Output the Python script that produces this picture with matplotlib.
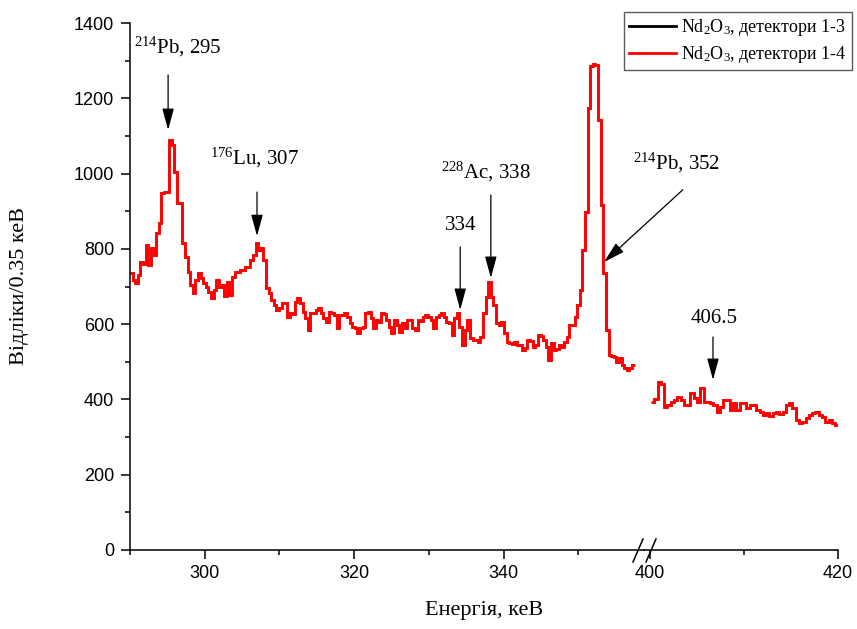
import numpy as np
import matplotlib
matplotlib.use('Agg')
import matplotlib.pyplot as plt
from matplotlib.lines import Line2D

plt.rcParams['font.family'] = ['Liberation Serif', 'DejaVu Serif']
plt.rcParams['mathtext.fontset'] = 'custom'
plt.rcParams['mathtext.rm'] = 'Liberation Serif'
plt.rcParams['mathtext.default'] = 'regular'

# spectrum, 0.35 keV bins
bin_width = 0.35
start_left = 290.0
start_right = 400.1

counts_left = [
    736, 718, 710, 730, 765, 760, 810, 757, 802, 784, 842, 869, 948, 952, 952,
    1089, 1076, 1004, 922, 922, 816, 779, 739, 704, 683, 717, 736, 723, 709, 699,
    686, 670, 691, 717, 699, 704, 675, 712, 677, 725, 739, 739, 744, 744, 752,
    752, 770, 784, 816, 797, 802, 770, 696, 683, 664, 651, 638, 643,
    656, 656, 619, 630, 627, 659, 670, 656, 632, 616, 584, 630, 630, 638, 643,
    630, 616, 606, 632, 630, 624, 590, 624, 624, 630, 619, 603, 592, 590, 576,
    590, 592, 630, 632, 616, 590, 611, 606, 630, 627, 611, 592, 576, 611, 598,
    579, 603, 590, 611, 611, 590, 584, 611, 608, 619, 624, 619, 611, 590, 619,
    624, 630, 619, 606, 603, 571, 616, 630,
    592, 545, 584, 611, 563, 558, 558, 553, 566, 630, 672, 712, 672, 651, 603,
    598, 606, 576, 553, 550, 548, 553, 545, 545, 531, 537, 558, 556, 539, 545,
    571, 568, 558, 539, 505, 550, 531, 533, 545, 539, 553, 566, 598, 598, 619,
    651, 691, 797, 898, 1174, 1285, 1292, 1288, 1143, 917, 736, 584, 518, 515,
    513, 499, 510, 492, 483, 478, 483, 492,
]

counts_right = [
    393, 401, 446, 440, 380, 385, 393, 398, 407, 399, 385, 385, 417, 404, 393,
    430, 393, 393, 390, 385, 367, 380, 399, 399, 372, 390, 372, 390, 390, 377,
    385, 385, 372, 367, 359, 364, 356, 364, 367, 361, 367, 385, 390, 377, 345,
    337, 340, 351, 359, 364, 367, 359, 353, 340, 345, 337, 332,
]

legend_labels = ['Nd$_2$O$_3$, детектори 1-3', 'Nd$_2$O$_3$, детектори 1-4']

W, H = 857, 629
fig = plt.figure(figsize=(W / 100, H / 100), dpi=100)


def fx(x):
    return x / W


def fy(y):
    return 1 - y / H


ax2 = fig.add_axes([fx(644), fy(550), fx(838) - fx(644), fy(23) - fy(550)])
ax1 = fig.add_axes([fx(130), fy(550), fx(644) - fx(130), fy(23) - fy(550)])
ax2.sharey(ax1)
ax1.patch.set_visible(False)
ax2.patch.set_visible(False)

edges_left = start_left + bin_width * np.arange(len(counts_left) + 1)
edges_right = start_right + bin_width * np.arange(len(counts_right) + 1)
ax1.stairs(counts_left, edges_left, baseline=None, color='red', lw=2.1)
ax2.stairs(counts_right, edges_right, baseline=None, color='red', lw=2.1)

ax1.set_xlim(290, 358.8)
ax2.set_xlim(399.36, 420)
ax1.set_ylim(0, 1400)

ax1.set_xticks([300, 320, 340])
ax1.set_xticks([290, 310, 330, 350], minor=True)
ax2.set_xticks([400, 420])
ax2.set_xticks([410], minor=True)
ax1.set_yticks(np.arange(0, 1401, 200))
ax1.set_yticks(np.arange(100, 1400, 200), minor=True)

for ax in (ax1, ax2):
    ax.spines['top'].set_visible(False)
    ax.spines['right'].set_visible(False)
    for s in ax.spines.values():
        s.set_linewidth(1.1)
    ax.tick_params(which='major', direction='out', length=6.5, width=1.1, labelsize=13, pad=4)
    ax.tick_params(which='minor', direction='out', length=3.5, width=1.1)
    for lab in ax.get_xticklabels() + ax.get_yticklabels():
        lab.set_fontfamily('Liberation Sans')
ax1.tick_params(axis='y', pad=5)
ax2.spines['left'].set_visible(False)
ax2.tick_params(axis='y', which='both', left=False, labelleft=False)

# axis break marks
for x0 in (633, 646):
    fig.add_artist(Line2D([fx(x0), fx(x0 + 10)], [fy(562), fy(539)],
                          transform=fig.transFigure, color='black', lw=1.1))

fig.text(fx(484), fy(610), 'Енергія, кеВ', ha='center', va='center', fontsize=16)
fig.text(fx(20), fy(286), 'Відліки/0.35 кеВ', ha='center', va='center',
         rotation=90, fontsize=16)

arrow = dict(arrowstyle='-|>,head_length=1.1,head_width=0.3', mutation_scale=12,
             lw=0.9, color='black', shrinkA=0, shrinkB=0)

notes = [
    (ax1, '$^{214}$Pb, 295', (296.4, 1336), (295.1, 1262), (295.1, 1116)),
    (ax1, '$^{176}$Lu, 307', (306.6, 1041), (307.0, 951), (307.0, 834)),
    (ax1, '$^{228}$Ac, 338', (337.7, 1004), (338.3, 943), (338.3, 723)),
    (ax1, '334', (334.2, 861), (334.2, 805), (334.2, 638)),
    (ax1, '$^{214}$Pb, 352', (363.2, 1028), (364.0, 957), (353.45, 765)),
    (ax2, '406.5', (406.8, 616), (406.7, 566), (406.7, 452)),
]
for ax, txt, tpos, a0, a1 in notes:
    ax.text(tpos[0], tpos[1], txt, ha='center', va='center', fontsize=15, clip_on=False)
    ax.annotate('', xy=a1, xytext=a0, arrowprops=arrow, annotation_clip=False)

handles = [Line2D([], [], color='black', lw=2), Line2D([], [], color='red', lw=2)]
leg = fig.legend(handles, legend_labels, loc='upper right',
                 bbox_to_anchor=(fx(852), fy(12)), fontsize=13, frameon=True,
                 fancybox=False, edgecolor='#333333', handlelength=2.6,
                 borderpad=0.3, labelspacing=0.3, handletextpad=0.3, borderaxespad=0)
leg.get_frame().set_linewidth(1)

fig.savefig('out.png', dpi=100)
